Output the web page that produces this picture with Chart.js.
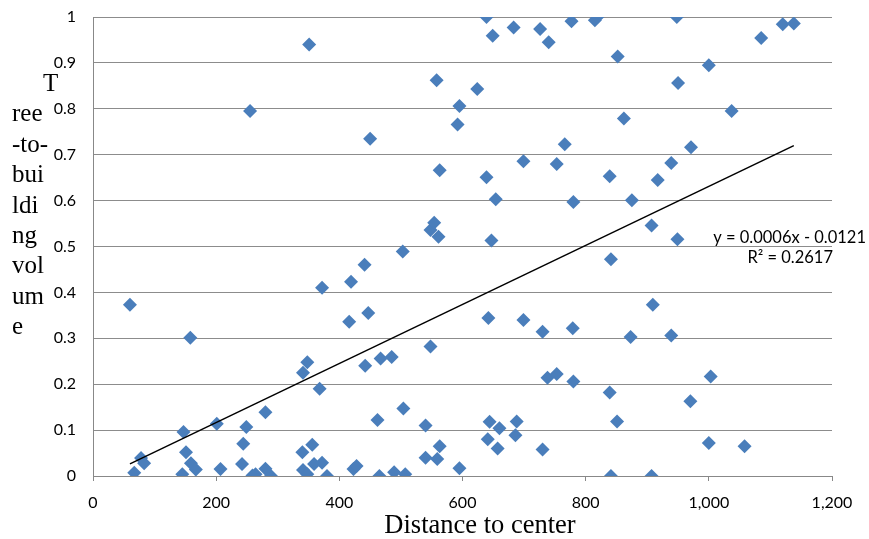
<!DOCTYPE html>
<html>
<head>
<meta charset="utf-8">
<script src="https://cdn.jsdelivr.net/npm/chart.js@4"></script>
<style>
  html, body { margin: 0; padding: 0; background: #fff; }
  #wrap { width: 869px; height: 539px; }
</style>
</head>
<body>
<div id="wrap"><canvas id="myChart"></canvas></div>
<script>
// distance to center (x) and tree-to-building volume (y)
const distance = [
    60, 67, 78, 83, 145, 147, 151, 158, 159, 167,
    201, 207, 242, 244, 249, 255, 259, 264, 280, 280,
    289, 340, 341, 341, 348, 348, 351, 356, 359, 368,
    372, 372, 380, 416, 419, 423, 428, 441, 442, 447,
    450, 462, 465, 467, 485, 489, 503, 504, 507, 540,
    540, 548, 548, 554, 558, 559, 561, 563, 563, 592,
    595, 595, 624, 639, 639, 641, 642, 644, 647, 649,
    654, 657, 660, 683, 686, 688, 699, 699, 726, 730,
    730, 738, 740, 753, 753, 766, 777, 779, 780, 780,
    815, 819, 839, 839, 841, 841, 851, 852, 862, 873,
    875, 907, 907, 909, 917, 939, 939, 948, 949, 950,
    970, 971, 1000, 1000, 1003, 1037, 1058, 1085, 1120, 1138
];
const volume = [
    0.373, 0.007, 0.039, 0.028, 0.004, 0.096, 0.052, 0.301, 0.028, 0.014,
    0.114, 0.015, 0.026, 0.070, 0.107, 0.795, 0.001, 0.004, 0.139, 0.016,
    0.000, 0.052, 0.013, 0.225, 0.004, 0.248, 0.940, 0.068, 0.026, 0.190,
    0.029, 0.410, 0.000, 0.336, 0.423, 0.015, 0.022, 0.460, 0.240, 0.355,
    0.735, 0.122, 0.000, 0.256, 0.259, 0.008, 0.489, 0.147, 0.004, 0.110,
    0.040, 0.282, 0.536, 0.552, 0.862, 0.037, 0.521, 0.065, 0.666, 0.766,
    0.806, 0.017, 0.843, 1.000, 0.651, 0.080, 0.344, 0.118, 0.513, 0.959,
    0.603, 0.060, 0.104, 0.977, 0.089, 0.119, 0.686, 0.340, 0.974, 0.314,
    0.058, 0.214, 0.945, 0.680, 0.222, 0.723, 0.991, 0.322, 0.597, 0.206,
    0.993, 1.000, 0.653, 0.182, 0.472, 0.000, 0.119, 0.914, 0.779, 0.303,
    0.601, 0.546, 0.000, 0.373, 0.645, 0.682, 0.306, 1.000, 0.516, 0.856,
    0.163, 0.716, 0.895, 0.072, 0.217, 0.795, 0.065, 0.954, 0.984, 0.986
];

// linear trendline
const trendSlope = 0.000643;
const trendIntercept = -0.0121;
const trendLabels = ['y = 0.0006x - 0.0121', 'R\u00b2 = 0.2617'];

const yTitleLines = ['T', 'ree', '-to-', 'bui', 'ldi', 'ng', 'vol', 'um', 'e'];
const xTitle = 'Distance to center';

const points = distance.map((d, i) => ({ x: d, y: volume[i] }));
const xMin = Math.min(...distance);
const xMax = Math.max(...distance);
const trend = [xMin, xMax].map(x => ({ x: x, y: trendSlope * x + trendIntercept }));

// axis titles sit off-centre in the original, so they are drawn here
const textPlugin = {
    id: 'extraText',
    afterDraw(chart) {
        const ctx = chart.ctx;
        const area = chart.chartArea;
        ctx.save();
        ctx.fillStyle = '#000';
        ctx.font = '25px "Liberation Serif"';
        ctx.textBaseline = 'alphabetic';
        ctx.textAlign = 'left';
        yTitleLines.forEach((line, i) => {
            const x = i === 0 ? 43 : 12;
            ctx.fillText(line, x, 91 + i * 30.4);
        });

        ctx.textAlign = 'center';
        ctx.font = '26.5px "Liberation Serif"';
        ctx.fillText(xTitle, 480, 533);

        ctx.font = '16.5px Lato';
        ctx.textAlign = 'right';
        ctx.fillText(trendLabels[0], area.right + 34, 243);
        ctx.fillText(trendLabels[1], area.right + 1, 263);
        ctx.restore();
    }
};

const canvas = document.getElementById('myChart');

const config = {
    type: 'scatter',
    data: {
        datasets: [{
            label: 'volume',
            data: points,
            pointStyle: 'rectRot',
            pointRadius: 7,
            pointHoverRadius: 7,
            backgroundColor: '#4A7EBB',
            borderColor: '#4A7EBB',
            borderWidth: 0,
            order: 2
        }, {
            label: 'trend',
            type: 'line',
            data: trend,
            borderColor: '#000',
            borderWidth: 1.5,
            pointRadius: 0,
            fill: false,
            order: 1
        }]
    },
    options: {
        responsive: true,
        maintainAspectRatio: false,
        animation: false,
        layout: { padding: { left: 0, right: 37, top: 17, bottom: 0 } },
        plugins: {
            legend: { display: false },
            tooltip: { enabled: false }
        },
        scales: {
            x: {
                type: 'linear',
                min: 0,
                max: 1200,
                ticks: {
                    stepSize: 200,
                    color: '#000',
                    font: { family: 'Lato', size: 16 },
                    padding: 12,
                    maxRotation: 0
                },
                grid: {
                    drawOnChartArea: false,
                    drawTicks: true,
                    tickLength: 5,
                    color: '#888'
                },
                border: { color: '#888' },
                afterFit(scale) { scale.height = 63; }
            },
            y: {
                min: 0,
                max: 1,
                ticks: {
                    stepSize: 0.1,
                    color: '#000',
                    font: { family: 'Lato', size: 16 },
                    padding: 17,
                    callback: v => String(parseFloat(v.toFixed(1)))
                },
                grid: {
                    drawTicks: false,
                    color: '#8c8c8c'
                },
                border: { color: '#888' },
                afterFit(scale) {
                    scale.width = 93;
                    scale.paddingTop = 0;
                    scale.paddingBottom = 0;
                }
            }
        }
    },
    plugins: [textPlugin]
};

const myChart = new Chart(canvas, config);
</script>
</body>
</html>
